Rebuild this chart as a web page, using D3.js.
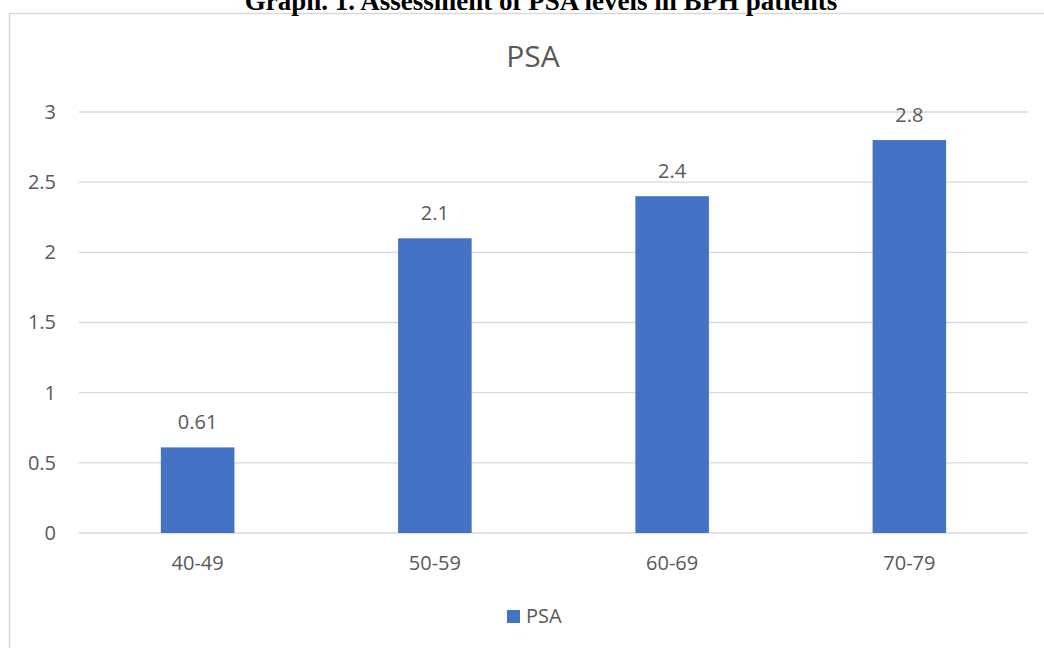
<!DOCTYPE html>
<html><head><meta charset="utf-8">
<script src="https://cdn.jsdelivr.net/npm/d3@7"></script>
<style>body{margin:0;background:#fff;}svg{display:block;}</style>
</head><body>
<script>
const categories = ["40-49","50-59","60-69","70-79"];
const psaValues = [0.61, 2.1, 2.4, 2.8];
const yTicks = [0, 0.5, 1, 1.5, 2, 2.5, 3];
const seriesName = "PSA";
const pageTitle = "Graph. 1. Assessment of PSA levels in BPH patients";

const W = 1044, H = 648;
const svg = d3.select("body").append("svg").attr("width", W).attr("height", H);
const font = "'Open Sans', 'Noto Sans', sans-serif";
const grey = "#595959";

// chart frame
svg.append("rect").attr("x", 9.5).attr("y", 13.5).attr("width", 1050).attr("height", 660)
  .attr("fill", "#fff").attr("stroke", "#d9d9d9").attr("stroke-width", 1.5);

// page caption (cut by the top edge, as in the source)
svg.append("text").attr("x", 541).attr("y", 9.5).attr("text-anchor", "middle")
  .attr("font-family", "'Liberation Serif', 'Times New Roman', serif").attr("font-weight", "bold")
  .attr("font-size", 27).attr("fill", "#000").text(pageTitle);

const x = d3.scaleBand().domain(categories).range([79, 1028]).paddingInner(0.69).paddingOuter(0.345);
const y = d3.scaleLinear().domain([0, 3]).range([533, 112]);

// gridlines
svg.append("g").selectAll("line").data(yTicks).join("line")
  .attr("x1", 79).attr("x2", 1028).attr("y1", d => y(d)).attr("y2", d => y(d))
  .attr("stroke", "#d9d9d9").attr("stroke-width", 1.3);

// y axis labels
const yAxis = d3.axisLeft(y).tickValues(yTicks).tickSize(0).tickPadding(0).tickFormat(d3.format("~g"));
const ga = svg.append("g").attr("transform", "translate(56,0)").call(yAxis);
ga.select(".domain").remove();
ga.selectAll("text").attr("font-family", font).attr("font-size", 20).attr("fill", grey);

// x axis labels
const xAxis = d3.axisBottom(x).tickSize(0).tickPadding(0);
const gx = svg.append("g").attr("transform", "translate(0,556)").call(xAxis);
gx.select(".domain").remove();
gx.selectAll("text").attr("font-family", font).attr("font-size", 20).attr("fill", grey);

// bars
svg.append("g").selectAll("rect").data(psaValues).join("rect")
  .attr("x", (d, i) => x(categories[i])).attr("width", x.bandwidth())
  .attr("y", d => y(d)).attr("height", d => y(0) - y(d)).attr("fill", "#4472c4");

// data labels
svg.append("g").selectAll("text").data(psaValues).join("text")
  .attr("x", (d, i) => x(categories[i]) + x.bandwidth() / 2).attr("y", d => y(d) - 18)
  .attr("text-anchor", "middle").attr("font-family", font).attr("font-size", 20).attr("fill", grey)
  .text(d => d3.format("~g")(d));

// chart title
svg.append("text").attr("x", 533).attr("y", 67).attr("text-anchor", "middle")
  .attr("font-family", font).attr("font-size", 30).attr("fill", grey).text(seriesName);

// legend
svg.append("rect").attr("x", 507).attr("y", 610).attr("width", 13).attr("height", 13).attr("fill", "#4472c4");
svg.append("text").attr("x", 526).attr("y", 623).attr("font-family", font).attr("font-size", 20)
  .attr("fill", grey).text(seriesName);
</script>
</body></html>
